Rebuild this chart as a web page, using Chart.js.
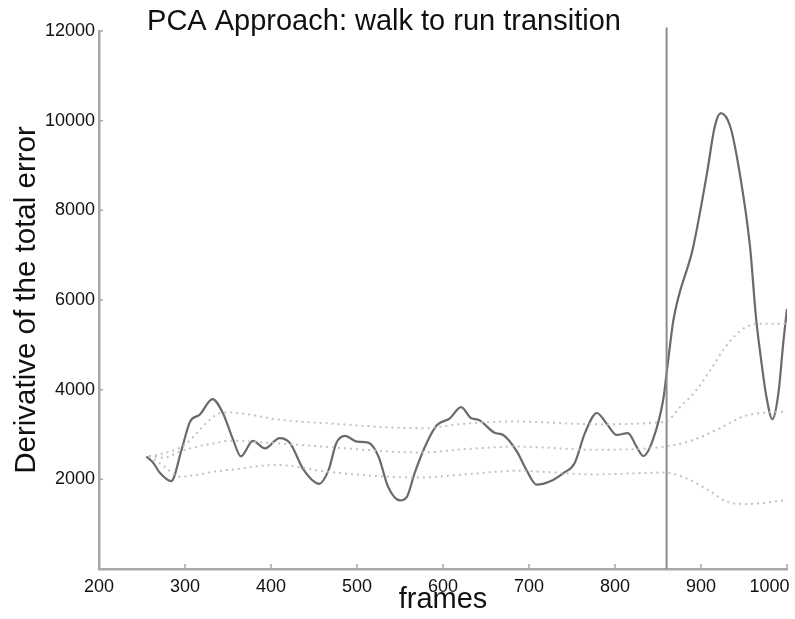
<!DOCTYPE html>
<html>
<head>
<meta charset="utf-8">
<title>PCA Approach: walk to run transition</title>
<script src="https://cdn.jsdelivr.net/npm/chart.js@4.4.1/dist/chart.umd.min.js"></script>
<style>
    html, body { margin: 0; padding: 0; background: #fff; }
    #pcaChart { display: block; }
</style>
</head>
<body>
<canvas id="pcaChart" width="795" height="619"></canvas>
<script>
// values
const chartTitle = 'PCA Approach: walk to run transition';
const xTitle = 'frames';
const yTitle = 'Derivative of the total error';

const mainFrames = [255, 263, 271, 284, 296, 306, 317, 332, 344, 356, 365, 379, 393, 410, 422, 438, 456, 467, 476, 486, 500, 513, 525, 536, 550, 558, 567, 581, 593, 608, 621, 633, 641, 660, 670, 686, 697, 709, 724, 740, 753, 765, 779, 790, 802, 815, 825, 833, 844, 856, 861, 868, 891, 907, 916, 923, 934, 945, 957, 964, 970, 976, 983, 990, 996, 1000];
const mainValues = [2510, 2370, 2140, 1960, 2660, 3290, 3440, 3790, 3480, 2880, 2510, 2860, 2690, 2920, 2810, 2210, 1900, 2210, 2810, 2970, 2840, 2820, 2510, 1840, 1530, 1610, 2140, 2810, 3210, 3360, 3610, 3360, 3330, 3040, 2990, 2620, 2210, 1880, 1950, 2140, 2360, 3030, 3480, 3250, 2990, 3030, 2730, 2520, 2880, 3770, 4520, 5560, 7190, 8830, 9870, 10170, 9870, 8830, 7190, 5600, 4650, 3850, 3340, 3920, 5110, 5800];

const upperFrames = [258, 275, 300, 314, 329, 341, 352, 410, 465, 573, 631, 686, 775, 858, 876, 895, 911, 926, 945, 965, 1000];
const upperValues = [2520, 2580, 2770, 3040, 3330, 3480, 3490, 3330, 3250, 3140, 3250, 3290, 3230, 3280, 3620, 4000, 4440, 4890, 5300, 5470, 5470];

const middleFrames = [258, 275, 294, 314, 333, 352, 410, 460, 573, 631, 686, 775, 858, 891, 922, 949, 969, 1000];
const middleValues = [2520, 2480, 2620, 2730, 2800, 2860, 2800, 2730, 2600, 2680, 2730, 2660, 2730, 2880, 3140, 3400, 3480, 3510];

const lowerFrames = [258, 275, 294, 314, 333, 352, 407, 465, 573, 631, 686, 775, 858, 883, 911, 930, 953, 1000];
const lowerValues = [2520, 2300, 2060, 2100, 2170, 2210, 2320, 2170, 2040, 2120, 2190, 2110, 2150, 2020, 1730, 1500, 1450, 1540];

const markerFrames = [860, 860];
const markerValues = [0, 12080];

const xTicks = [200, 300, 400, 500, 600, 700, 800, 900, 1000];
const yTicks = [0, 2000, 4000, 6000, 8000, 10000, 12000];

const fontFamily = '"Liberation Sans", Arial, Helvetica, sans-serif';

function toPoints(frames, values) {
    return frames.map((f, i) => ({ x: f, y: values[i] }));
}

// title drawn by hand so it can sit over the top of the plot
const titlePlugin = {
    id: 'plainTitle',
    afterDraw(chart) {
        const ctx = chart.ctx;
        ctx.save();
        ctx.font = '29px ' + fontFamily;
        ctx.fillStyle = '#111';
        ctx.textAlign = 'center';
        ctx.textBaseline = 'alphabetic';
        ctx.fillText(chartTitle, 384, 30);
        ctx.restore();
    }
};

// small tick marks pointing into the plot
const innerTicksPlugin = {
    id: 'innerTicks',
    afterDraw(chart) {
        const {ctx, scales: {x, y}, chartArea} = chart;
        ctx.save();
        ctx.strokeStyle = '#a8a8a8';
        ctx.lineWidth = 1.5;
        ctx.beginPath();
        xTicks.forEach(v => {
            const px = x.getPixelForValue(v);
            ctx.moveTo(px, chartArea.bottom);
            ctx.lineTo(px, chartArea.bottom - 5);
        });
        yTicks.forEach(v => {
            const py = y.getPixelForValue(v);
            ctx.moveTo(chartArea.left, py);
            ctx.lineTo(chartArea.left + 4, py);
        });
        ctx.stroke();
        ctx.restore();
    }
};

const dotted = {
    borderColor: '#c2c2c2',
    borderWidth: 2,
    borderDash: [2, 4],
    pointRadius: 0,
    cubicInterpolationMode: 'monotone',
    fill: false
};

new Chart(document.getElementById('pcaChart'), {
    type: 'line',
    data: {
        datasets: [
            Object.assign({ label: 'upper', data: toPoints(upperFrames, upperValues) }, dotted),
            Object.assign({ label: 'middle', data: toPoints(middleFrames, middleValues) }, dotted),
            Object.assign({ label: 'lower', data: toPoints(lowerFrames, lowerValues) }, dotted),
            {
                label: 'transition',
                data: toPoints(markerFrames, markerValues),
                borderColor: '#8c8c8c',
                borderWidth: 2,
                pointRadius: 0,
                tension: 0,
                clip: false
            },
            {
                label: 'derivative',
                data: toPoints(mainFrames, mainValues),
                borderColor: '#6a6a6a',
                borderWidth: 2.2,
                pointRadius: 0,
                cubicInterpolationMode: 'monotone',
                fill: false
            }
        ]
    },
    options: {
        responsive: false,
        animation: false,
        layout: { padding: { top: 31, right: 8, left: 0, bottom: 0 } },
        plugins: {
            legend: { display: false },
            tooltip: { enabled: false },
            title: { display: false }
        },
        scales: {
            x: {
                type: 'linear',
                min: 200,
                max: 1000,
                grid: { display: false, drawTicks: false },
                border: { display: true, color: '#a8a8a8', width: 2.5 },
                afterBuildTicks: scale => { scale.ticks = xTicks.map(v => ({ value: v })); },
                afterFit: scale => {
                    scale.height = 50;
                    // let the last label hang past the plot like in the original
                    scale.paddingLeft = 0;
                    scale.paddingRight = 0;
                },
                ticks: {
                    padding: 7,
                    color: '#111',
                    maxRotation: 0,
                    font: { family: fontFamily, size: 18 },
                    // last label sits left of its tick in the original, pad it so it stays on the canvas
                    callback: v => (v === 1000 ? '1000       ' : String(v))
                },
                title: {
                    display: true,
                    text: xTitle,
                    color: '#111',
                    font: { family: fontFamily, size: 29 },
                    padding: { top: 0, bottom: 2 }
                }
            },
            y: {
                type: 'linear',
                min: 0,
                max: 12000,
                grid: { display: false, drawTicks: false },
                border: { display: true, color: '#a8a8a8', width: 2.5 },
                afterBuildTicks: scale => { scale.ticks = yTicks.map(v => ({ value: v })); },
                afterFit: scale => {
                    scale.width = 99;
                    scale.paddingTop = 0;
                    scale.paddingBottom = 0;
                },
                ticks: {
                    padding: 4,
                    color: '#111',
                    font: { family: fontFamily, size: 18 },
                    callback: v => (v === 0 ? '' : String(v))
                },
                title: {
                    display: true,
                    text: yTitle,
                    color: '#111',
                    font: { family: fontFamily, size: 29.5 },
                    padding: { top: 9, bottom: 0 }
                }
            }
        }
    },
    plugins: [titlePlugin, innerTicksPlugin]
});
</script>
</body>
</html>
